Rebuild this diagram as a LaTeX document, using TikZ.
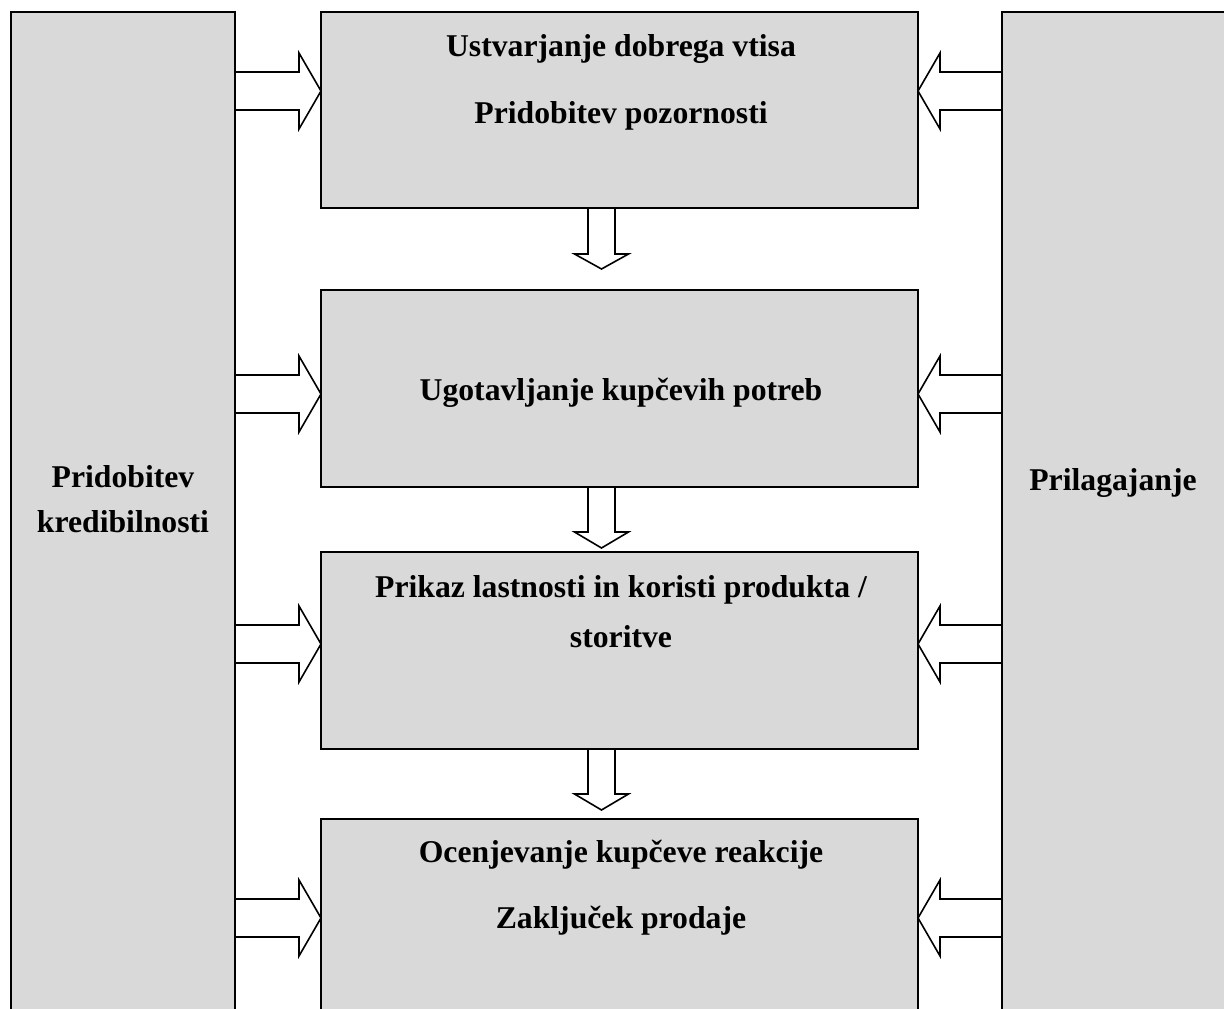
\documentclass[tikz,border=0pt]{standalone}
\usepackage{fontspec}
\setmainfont{Liberation Serif}
\definecolor{boxgray}{RGB}{217,217,217}
\newcommand\rblock[3]{% start x, tip x, centre y (arrow pointing right)
  \draw[blk] (#1,#3-19) -- (#2-22,#3-19) -- (#2-22,#3-38) -- (#2,#3) -- (#2-22,#3+38) -- (#2-22,#3+19) -- (#1,#3+19);}
\newcommand\lblock[3]{% start x, tip x, centre y (arrow pointing left)
  \draw[blk] (#1,#3-19) -- (#2+22,#3-19) -- (#2+22,#3-38) -- (#2,#3) -- (#2+22,#3+38) -- (#2+22,#3+19) -- (#1,#3+19);}
\newcommand\dblock[4]{% centre x, start y, head base y, tip y
  \draw[blk] (#1-13.5,#2) -- (#1-13.5,#3) -- (#1-27,#3) -- (#1,#4) -- (#1+27,#3) -- (#1+13.5,#3) -- (#1+13.5,#2);}
\begin{document}
\begin{tikzpicture}[x=1pt,y=-1pt,
  box/.style={draw=black, fill=boxgray, line width=1.6pt, rectangle, inner sep=0pt},
  blk/.style={draw=black, fill=white, line width=1.6pt, line join=miter},
  lbl/.style={font=\fontsize{31.7}{36}\selectfont\bfseries, anchor=base, inner sep=0pt}]
\useasboundingbox (0,0) rectangle (1224,1009);
\clip (0,0) rectangle (1224,1009);
% arrows from left box
\rblock{235}{321}{91}
\rblock{235}{321}{394}
\rblock{235}{321}{644}
\rblock{235}{321}{918}
% arrows from right box
\lblock{1002}{918}{91}
\lblock{1002}{918}{394}
\lblock{1002}{918}{644}
\lblock{1002}{918}{918}
% downward arrows
\dblock{601.5}{208}{254}{269}
\dblock{601.5}{487}{532}{548}
\dblock{601.5}{749}{794}{810}
% side boxes
\node[box, minimum width=224pt, minimum height=1018pt] (L) at (123,521) {};
\node[box, minimum width=224pt, minimum height=1018pt] (R) at (1114,521) {};
% centre boxes
\node[box, minimum width=597pt, minimum height=196pt] (C1) at (619.5,110) {};
\node[box, minimum width=597pt, minimum height=197pt] (C2) at (619.5,388.5) {};
\node[box, minimum width=597pt, minimum height=197pt] (C3) at (619.5,650.5) {};
\node[box, minimum width=597pt, minimum height=211pt] (C4) at (619.5,924.5) {};
% texts
\node[lbl] (t1a) at (621,56) {Ustvarjanje dobrega vtisa};
\node[lbl] (t1b) at (621,123) {Pridobitev pozornosti};
\node[lbl] (t2) at (621,400) {Ugotavljanje kupčevih potreb};
\node[lbl] (t3a) at (621,597) {Prikaz lastnosti in koristi produkta /};
\node[lbl] (t3b) at (621,647) {storitve};
\node[lbl] (t4a) at (621,862) {Ocenjevanje kupčeve reakcije};
\node[lbl] (t4b) at (621,928) {Zaključek prodaje};
\node[lbl] (tLa) at (123,487) {Pridobitev};
\node[lbl] (tLb) at (123,532) {kredibilnosti};
\node[lbl] (tR) at (1113,490) {Prilagajanje};
\end{tikzpicture}
\end{document}
